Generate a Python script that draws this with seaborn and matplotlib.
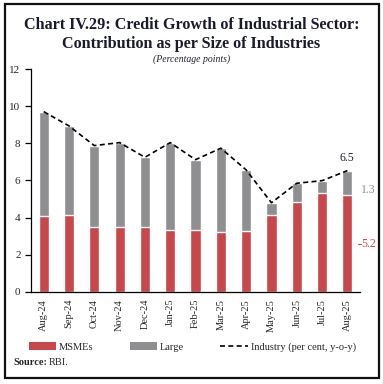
import matplotlib
matplotlib.use('Agg')
import numpy as np
import pandas as pd
import matplotlib.pyplot as plt
from matplotlib.patches import Patch, Rectangle
from matplotlib.lines import Line2D
import seaborn as sns

# ---- data ----
months = ["Aug-24", "Sep-24", "Oct-24", "Nov-24", "Dec-24", "Jan-25", "Feb-25",
          "Mar-25", "Apr-25", "May-25", "Jun-25", "Jul-25", "Aug-25"]
msme = [4.06, 4.12, 3.47, 3.52, 3.47, 3.35, 3.35, 3.24, 3.29, 4.12, 4.86, 5.33, 5.23]
large = [5.65, 4.82, 4.41, 4.52, 3.78, 4.69, 3.77, 4.50, 3.28, 0.68, 0.99, 0.66, 1.30]
industry = [9.71, 8.94, 7.88, 8.04, 7.25, 8.04, 7.12, 7.74, 6.57, 4.80, 5.85, 5.99, 6.53]

RED = "#C8474B"
GREY = "#8F8F92"
SERIF = "Liberation Serif"

sns.set_theme(style="white")
plt.rcParams["font.family"] = [SERIF, "DejaVu Serif"]

df = pd.DataFrame({"month": months, "msme": msme, "large": large,
                   "total": np.array(msme) + np.array(large), "industry": industry})

fig = plt.figure(figsize=(3.83, 3.84), dpi=100)
ax = fig.add_axes([0.081, 0.240, 0.859, 0.580])

# stacked bars: total in grey, MSME in red drawn over it
sns.barplot(data=df, x="month", y="total", color=GREY, width=0.4,
            saturation=1, ax=ax)
sns.barplot(data=df, x="month", y="msme", color=RED, width=0.4,
            saturation=1, ax=ax)
sns.lineplot(x=np.arange(len(months)), y=df["industry"], color="black",
             linestyle=(0, (3, 2)), linewidth=1.2, ax=ax)

ax.set_ylim(0, 12)
ax.set_xlim(-0.5, len(months) - 0.5)
ax.set_yticks(range(0, 13, 2))
ax.set_xlabel("")
ax.set_ylabel("")
sns.despine(ax=ax)
for s in ["left", "bottom"]:
    ax.spines[s].set_color("black")
    ax.spines[s].set_linewidth(0.9)

ax.set_xticks(np.arange(len(months)))
ax.set_xticklabels(months, rotation=90, fontsize=7.5)
ax.set_xticks(np.arange(-0.5, len(months)), minor=True)
ax.tick_params(axis="x", which="major", length=0, pad=5)
ax.tick_params(axis="x", which="minor", length=4, width=0.9, color="black", direction="out")
ax.tick_params(axis="y", length=4, width=0.9, color="black", direction="out",
               labelsize=8, left=True)

# end annotations
last = len(months) - 1
ax.text(last, industry[-1] + 0.35, "6.5", ha="center", va="bottom",
        fontsize=8.5, color="#222233")
ax.text(last + 0.55, msme[-1] + 0.25, "1.3", ha="left", va="center",
        fontsize=8.5, color=GREY)
ax.text(last + 0.55, 2.6, "5.2", ha="left", va="center", fontsize=8.5, color=RED)
ax.plot([last + 0.42, last + 0.52], [2.6, 2.6], color=RED, lw=0.8, clip_on=False)

# title block
fig.text(0.5, 0.935, "Chart IV.29: Credit Growth of Industrial Sector:",
         ha="center", va="center", fontsize=11.6, fontweight="bold", color="#1a1a2e")
fig.text(0.5, 0.885, "Contribution as per Size of Industries",
         ha="center", va="center", fontsize=11.6, fontweight="bold", color="#1a1a2e")
fig.text(0.5, 0.846, "(Percentage points)", ha="center", va="center",
         fontsize=7, style="italic", color="#222233")

handles = [Patch(facecolor=RED, edgecolor="none"),
           Patch(facecolor=GREY, edgecolor="none"),
           Line2D([0], [0], color="black", linestyle=(0, (3, 2)), lw=1.2)]
fig.legend(handles, ["MSMEs", "Large", "Industry (per cent, y-o-y)"],
           loc="center left", bbox_to_anchor=(0.05, 0.096), ncol=3, frameon=False,
           fontsize=7.5, handlelength=2.6, handleheight=0.7, columnspacing=3.5,
           handletextpad=0.3)

fig.text(0.034, 0.055, "Source:", fontsize=7.5, fontweight="bold", va="center")
fig.text(0.128, 0.055, "RBI.", fontsize=7.5, va="center")

fig.patches.append(Rectangle((0.012, 0.016), 0.977, 0.973, transform=fig.transFigure,
                             fill=False, edgecolor="#111111", linewidth=1.6))

plt.savefig("out.png", dpi=100)
plt.close()
